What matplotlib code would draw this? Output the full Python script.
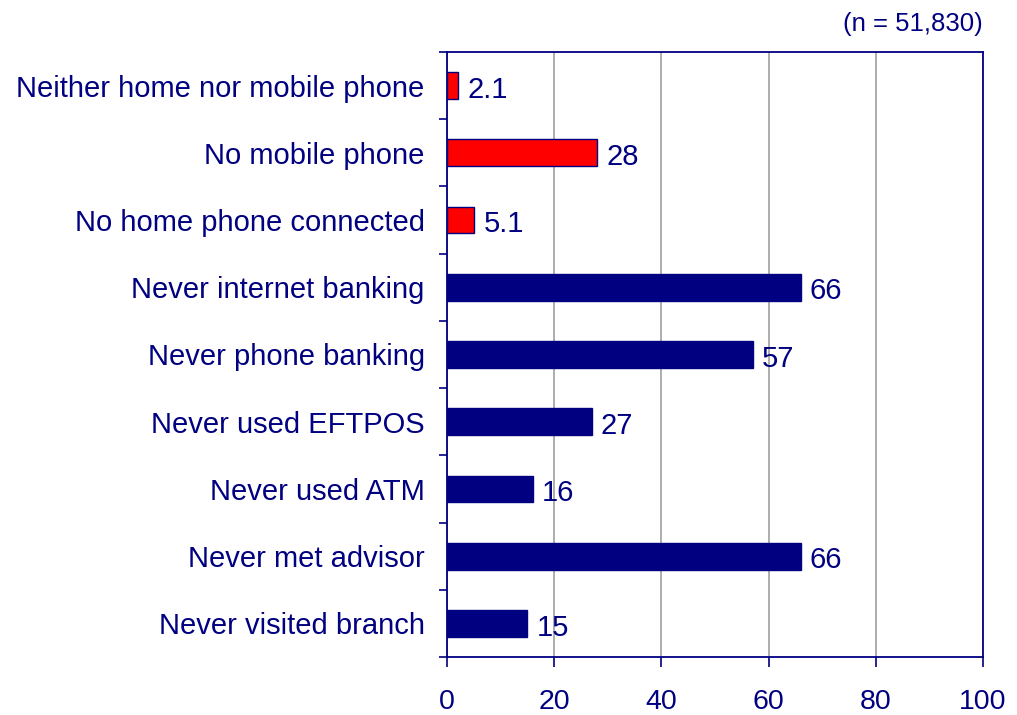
import numpy as np
import matplotlib.pyplot as plt
from matplotlib.ticker import FixedLocator

plt.rcParams['font.family'] = ['Liberation Sans', 'DejaVu Sans']

NAVY = "#000080"
RED = "#FF0000"
GRID = "#A0A0A0"

# ── data (top to bottom) ─────────────────────────────────────────────────────
categories = [
    "Neither home nor mobile phone",
    "No mobile phone",
    "No home phone connected",
    "Never internet banking",
    "Never phone banking",
    "Never used EFTPOS",
    "Never used ATM",
    "Never met advisor",
    "Never visited branch",
]
values = [2.1, 28, 5.1, 66, 57, 27, 16, 66, 15]
value_labels = ["2.1", "28", "5.1", "66", "57", "27", "16", "66", "15"]
phone_group = [True, True, True, False, False, False, False, False, False]
x_ticks = [0, 20, 40, 60, 80, 100]

# ── figure ───────────────────────────────────────────────────────────────────
fig = plt.figure(figsize=(10.17, 7.15), dpi=100, facecolor="white")
ax = fig.add_axes([0.4395, 0.0811, 0.5271, 0.8462])

y = np.arange(len(categories))
colors = [RED if p else NAVY for p in phone_group]
ax.barh(y, values, height=0.4, color=colors, edgecolor=NAVY, linewidth=1.0, zorder=3)

for yi, v, lab in zip(y, values, value_labels):
    ax.annotate(lab, (v, yi), xytext=(6.5, -3), textcoords="offset points",
                ha="left", va="center", fontsize=21, color=NAVY, zorder=4)

ax.set_xlim(0, 100)
ax.set_ylim(len(categories) - 0.5, -0.5)

ax.set_xticks(x_ticks)
ax.set_xticklabels([str(t) for t in x_ticks])
ax.tick_params(axis="x", direction="out", length=7, width=1.2, color=NAVY,
               labelsize=20.5, labelcolor=NAVY, pad=16)

ax.set_yticks(y)
ax.set_yticklabels(categories)
ax.tick_params(axis="y", which="major", length=0, labelsize=21,
               labelcolor=NAVY, pad=16)
for t in ax.get_yticklabels():
    t.set_y(t.get_position()[1])
ax.yaxis.set_minor_locator(FixedLocator(np.arange(-0.5, len(categories), 1.0)))
ax.tick_params(axis="y", which="minor", direction="out", length=6, width=1.2, color=NAVY)

ax.grid(axis="x", color=GRID, linewidth=1.2, zorder=0)
ax.set_axisbelow(True)
for sp in ax.spines.values():
    sp.set_edgecolor(NAVY)
    sp.set_linewidth(1.3)

fig.text(0.9666, 0.967, "(n = 51,830)", ha="right", va="center",
         fontsize=18.5, color=NAVY)

fig.savefig("out.png", dpi=100, facecolor=fig.get_facecolor())
